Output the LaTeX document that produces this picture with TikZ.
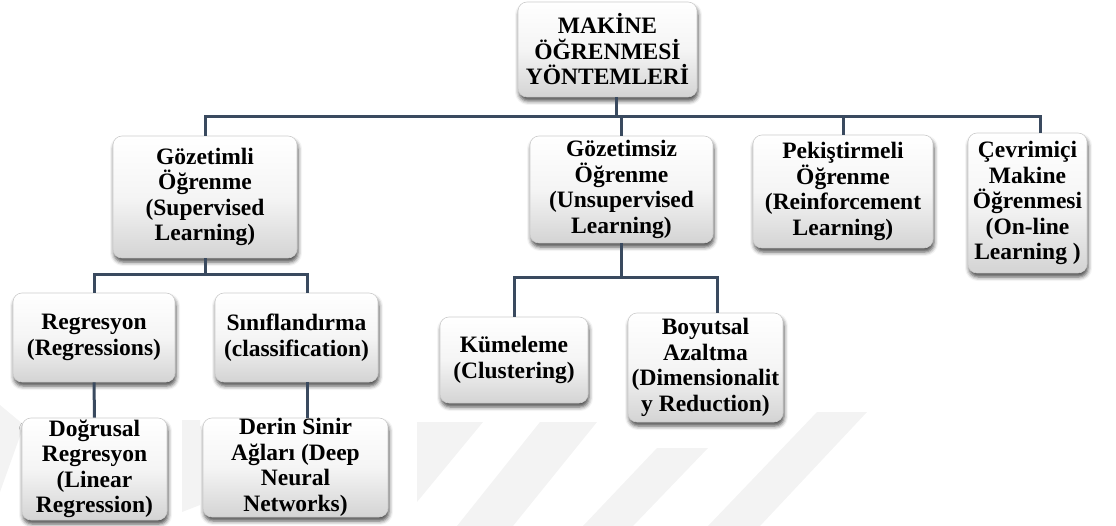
\documentclass[tikz,border=0pt]{standalone}
\usepackage{fontspec}
\setmainfont{Liberation Serif}
\usetikzlibrary{shadows.blur,calc}
\definecolor{connc}{RGB}{58,74,95}
\definecolor{boxline}{RGB}{205,205,205}
\definecolor{wmark}{RGB}{243,243,243}
\tikzset{
  box/.style={draw=boxline, line width=0.6pt, rounded corners=9pt,
    top color=white, bottom color=black!17, middle color=white!96!black,
    blur shadow={shadow xshift=1pt, shadow yshift=-4pt, shadow blur radius=4pt, shadow opacity=70},
    align=center, inner sep=0pt, text=black,
    font=\bfseries\fontsize{23.5}{25.5}\selectfont},
  conn/.style={draw=connc, line width=3pt},
  wm/.style={fill=wmark, draw=none}
}
\begin{document}
\begin{tikzpicture}[x=1pt,y=-1pt]
\useasboundingbox (0,0) rectangle (1116,526);
% faint watermark stripes
\fill[wm] (417,422) -- (483,422) -- (417,502) -- cycle;
\fill[wm] (540,422) -- (597,422) -- (513,526) -- (457,526) -- cycle;
\fill[wm] (657,448) -- (708,448) -- (633,526) -- (583,526) -- cycle;
\fill[wm] (817,412) -- (867,412) -- (760,526) -- (708,526) -- cycle;
\fill[wm] (0,405) -- (24,425) -- (0,492) -- cycle;
\fill[wm] (182,420) -- (200,420) -- (200,505) -- (182,512) -- cycle;

% bus coordinates
\coordinate (b1) at (616,117);
\coordinate (busR) at (1040,117);
\coordinate (b2) at (307,275);
\coordinate (b3) at (717,278);

% nodes
\node[box, minimum width=179, minimum height=95] (top) at (607.5,49.5) {MAKİNE\\ÖĞRENMESİ\\YÖNTEMLERİ};
\node[box, minimum width=184, minimum height=122] (gz) at (205,197) {Gözetimli\\Öğrenme\\(Supervised\\Learning)};
\node[box, minimum width=183, minimum height=107] (gzs) at (621.5,189.5) {Gözetimsiz\\Öğrenme\\(Unsupervised\\Learning)};
\node[box, minimum width=180, minimum height=113] (pk) at (843,191.5) {Pekiştirmeli\\Öğrenme\\(Reinforcement\\Learning)};
\node[box, minimum width=119, minimum height=140] (cv) at (1027.5,203) {Çevrimiçi\\Makine\\Öğrenmesi\\(On-line\\Learning )};
\node[box, minimum width=162, minimum height=89] (reg) at (94,337.5) {Regresyon\\(Regressions)};
\node[box, minimum width=163, minimum height=89] (sin) at (296.5,337.5) {Sınıflandırma\\(classification)};
\node[box, minimum width=145, minimum height=102] (dog) at (94.5,469) {Doğrusal\\Regresyon\\(Linear\\Regression)};
\node[box, minimum width=185, minimum height=99] (der) at (295.5,467.5) {Derin Sinir\\Ağları (Deep\\Neural\\Networks)};
\node[box, minimum width=148, minimum height=86] (kum) at (514,360) {Kümeleme\\(Clustering)};
\node[box, minimum width=155, minimum height=109] (boy) at (705.5,367.5) {Boyutsal\\Azaltma\\(Dimensionalit\\y Reduction)};

% connectors
\draw[conn] (top.south -| b1) -- (b1);
\draw[conn] (gz.north) -- (gz.north |- busR) -- (busR) -- (busR |- cv.north);
\draw[conn] (gzs.north) -- (gzs.north |- busR);
\draw[conn] (pk.north) -- (pk.north |- busR);
\draw[conn] (gz.south) -- (gz.south |- b2);
\draw[conn] (reg.north) |- (b2) -- (b2 |- sin.north);
\draw[conn] (reg.south) -- (dog.north);
\draw[conn] (sin.south -| b2) -- (der.north -| b2);
\draw[conn] (gzs.south) -- (gzs.south |- b3);
\draw[conn] (kum.north) |- (b3) -- (b3 |- boy.north);
\end{tikzpicture}
\end{document}
